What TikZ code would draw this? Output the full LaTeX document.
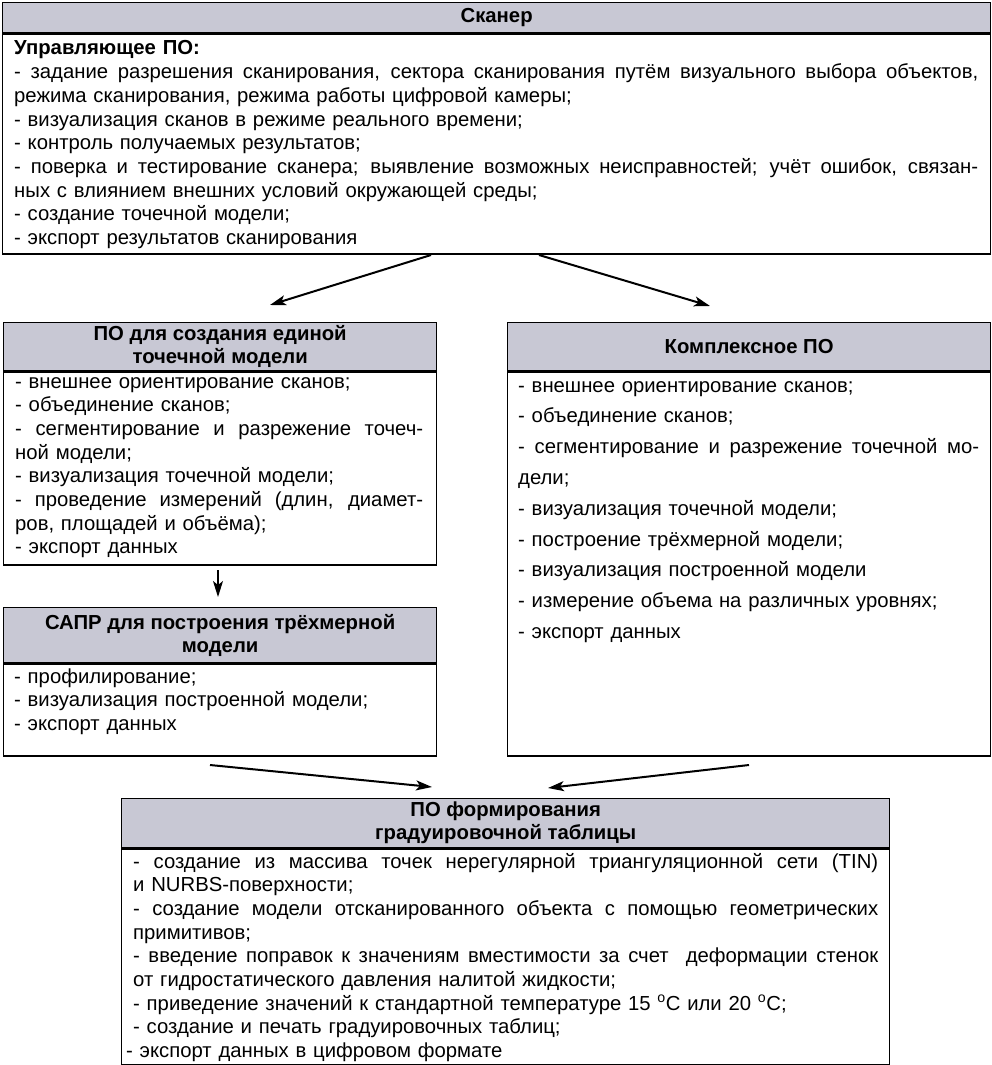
\documentclass[tikz,border=0pt]{standalone}
\usepackage{fontspec}
\setmainfont{Liberation Sans}
\usetikzlibrary{arrows.meta}
\definecolor{hdrfill}{RGB}{200,200,212}
\newcommand\J[2]{{\spaceskip=0pt\xspaceskip=0pt\makebox[#1][s]{#2}}}
\begin{document}
\begin{tikzpicture}[x=1pt,y=-1pt,
  hdr/.style={draw, line width=1.3pt, fill=hdrfill, anchor=north west, inner sep=0pt, align=center, font=\fontsize{20.3}{23}\selectfont\bfseries},
  bodybox/.style={draw, line width=1.3pt, anchor=north west, inner sep=0pt},
  txt/.style={anchor=base west, inner sep=0pt, align=left, font=\fontsize{20.3}{23.7}\selectfont},
  arr/.style={line width=2pt, -{Stealth[length=16pt,width=10pt,inset=4pt]}}]
\useasboundingbox (0,0) rectangle (992,1065);

% --- Scanner
\node[hdr, minimum width=988pt, minimum height=30pt] (scanH) at (2,2) {Сканер};
\node[bodybox, minimum width=988pt, minimum height=220pt] (scanB) at (scanH.south west) {};
\node[txt, text width=964pt] (scanT) at (14,55) {%
\textbf{Управляющее ПО:}\\
\J{964pt}{- задание разрешения сканирования, сектора сканирования путём визуального выбора объектов,}\\
режима сканирования, режима работы цифровой камеры;\\
- визуализация сканов в режиме реального времени;\\
- контроль получаемых результатов;\\
\J{964pt}{- поверка и тестирование сканера; выявление возможных неисправностей; учёт ошибок, связан-}\\
ных с влиянием внешних условий окружающей среды;\\
- создание точечной модели;\\
- экспорт результатов сканирования};

% --- Left 1
\node[hdr, minimum width=433pt, minimum height=48pt] (pmH) at (3,322) {ПО для создания единой\\точечной модели};
\node[bodybox, minimum width=433pt, minimum height=193pt] (pmB) at (pmH.south west) {};
\node[txt, text width=408pt] (pmT) at (15,388) {%
- внешнее ориентирование сканов;\\
- объединение сканов;\\
\J{408pt}{- сегментирование и разрежение точеч-}\\
ной модели;\\
- визуализация точечной модели;\\
\J{408pt}{- проведение измерений (длин, диамет-}\\
ров, площадей и объёма);\\
- экспорт данных};

% --- Right
\node[hdr, minimum width=483pt, minimum height=48pt] (kpH) at (507,322) {Комплексное ПО};
\node[bodybox, minimum width=483pt, minimum height=384pt] (kpB) at (kpH.south west) {};
\node[txt, text width=461pt, font=\fontsize{20.3}{30.8}\selectfont] (kpT) at (518,392) {%
- внешнее ориентирование сканов;\\
- объединение сканов;\\
\J{461pt}{- сегментирование и разрежение точечной мо-}\\
дели;\\
- визуализация точечной модели;\\
- построение трёхмерной модели;\\
- визуализация построенной модели\\
- измерение объема на различных уровнях;\\
- экспорт данных};

% --- Left 2 (CAD)
\node[hdr, minimum width=433pt, minimum height=55pt] (cadH) at (3,607) {САПР для построения трёхмерной\\модели};
\node[bodybox, minimum width=433pt, minimum height=92pt] (cadB) at (cadH.south west) {};
\node[txt, text width=408pt] (cadT) at (14,683) {%
- профилирование;\\
- визуализация построенной модели;\\
- экспорт данных};

% --- Bottom
\node[hdr, minimum width=768pt, minimum height=49pt] (gtH) at (121,798) {ПО формирования\\градуировочной таблицы};
\node[bodybox, minimum width=768pt, minimum height=216pt] (gtB) at (gtH.south west) {};
\node[txt, text width=745pt] (gtT) at (133,868) {%
\J{745pt}{- создание из массива точек нерегулярной триангуляционной сети (TIN)}\\
и NURBS-поверхности;\\
\J{745pt}{- создание модели отсканированного объекта с помощью геометрических}\\
примитивов;\\
\J{745pt}{- введение поправок к значениям вместимости за счет \ деформации стенок}\\
от гидростатического давления налитой жидкости;\\
- приведение значений к стандартной температуре 15 \textsuperscript{o}C или 20 \textsuperscript{o}C;\\
- создание и печать градуировочных таблиц;\\
\hspace*{-7pt}- экспорт данных в цифровом формате};

% --- Connectors
\coordinate (a1s) at (431,255); \coordinate (a1e) at (270,305);
\coordinate (a2s) at (539,255); \coordinate (a2e) at (710,306);
\coordinate (a3s) at (218,570); \coordinate (a3e) at (218,597);
\coordinate (a4s) at (210,765); \coordinate (a4e) at (432,787);
\coordinate (a5s) at (749,765); \coordinate (a5e) at (548,788);
\draw[arr] (a1s) -- (a1e);
\draw[arr] (a2s) -- (a2e);
\draw[arr, line width=1.5pt] (a3s) -- (a3e);
\draw[arr] (a4s) -- (a4e);
\draw[arr] (a5s) -- (a5e);
\end{tikzpicture}
\end{document}
